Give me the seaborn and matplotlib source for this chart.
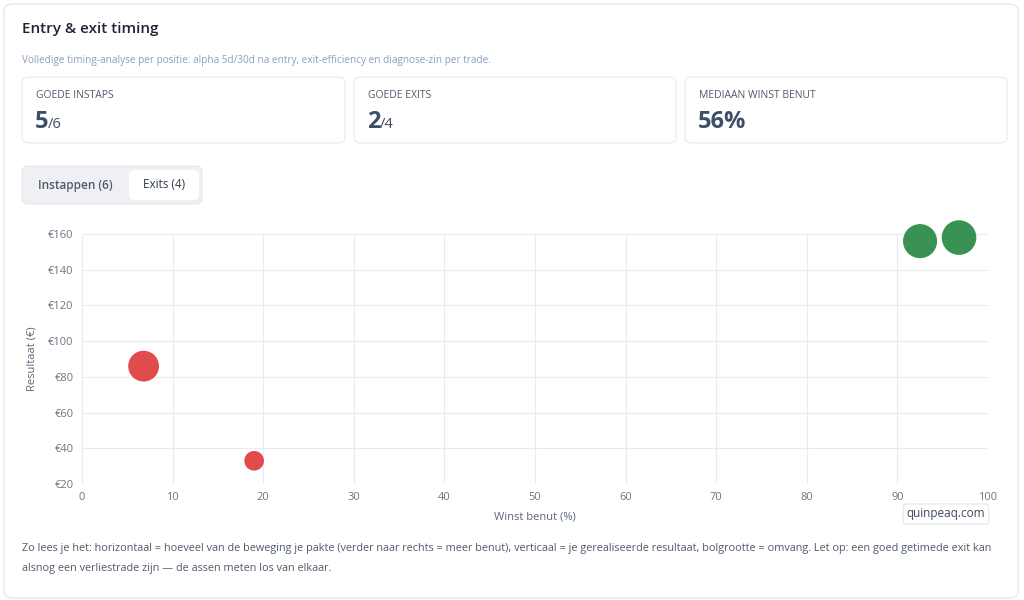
import matplotlib
matplotlib.use("Agg")
import matplotlib.pyplot as plt
import seaborn as sns
import pandas as pd
from matplotlib.patches import FancyBboxPatch
from matplotlib.ticker import FuncFormatter

winst_benut = [6.8, 19.0, 92.5, 96.8]
resultaat = [86, 33, 156, 158]
omvang = [1500, 700, 1800, 1850]
goede_exit = ["nee", "nee", "ja", "ja"]
kpi_labels = ["GOEDE INSTAPS", "GOEDE EXITS", "MEDIAAN WINST BENUT"]
kpi_main = ["5", "2", "56%"]
kpi_sub = ["/6", "/4", ""]

sns.set_theme(style="whitegrid")
plt.rcParams['font.family'] = ['Open Sans', 'DejaVu Sans']

fig = plt.figure(figsize=(10.24, 6), dpi=100)
fig.patch.set_facecolor("white")
W, H = 1024, 600
def fx(x): return x / W
def fy(y): return 1 - y / H

fig.patches.append(FancyBboxPatch((fx(4), fy(598)), fx(1014), 594 / H, boxstyle="round,pad=0,rounding_size=0.01",
                                  transform=fig.transFigure, fc="white", ec="#e3e8ef", lw=1, zorder=-5))
fig.text(fx(22), fy(29), "Entry & exit timing", fontsize=11, weight="semibold", color="#1e2533", va="center")
fig.text(fx(22), fy(60), "Volledige timing-analyse per positie: alpha 5d/30d na entry, exit-efficiency en diagnose-zin per trade.",
         fontsize=7.2, color="#8aa0bd", va="center")

cards = [(22, 345), (354, 676), (685, 1007)]
for (x0, x1), lab, m, s in zip(cards, kpi_labels, kpi_main, kpi_sub):
    fig.patches.append(FancyBboxPatch((fx(x0), fy(143)), fx(x1 - x0), 66 / H, boxstyle="round,pad=0,rounding_size=0.008",
                                      transform=fig.transFigure, fc="white", ec="#e6eaf0", lw=0.8, zorder=-4))
    fig.text(fx(x0 + 14), fy(96), lab, fontsize=7.5, color="#4f5b6b", va="center")
    t = fig.text(fx(x0 + 13), fy(122), m, fontsize=17, weight="bold", color="#3d4f66", va="center")
    if s:
        fig.canvas.draw()
        bb = t.get_window_extent()
        fig.text(bb.x1 / W - 0.001, fy(125), s, fontsize=10.5, color="#3d4f66", va="center")

fig.patches.append(FancyBboxPatch((fx(22), fy(204)), fx(180), 38 / H, boxstyle="round,pad=0,rounding_size=0.008",
                                  transform=fig.transFigure, fc="#eef0f3", ec="#e6e8ec", lw=0.8, zorder=-4))
fig.patches.append(FancyBboxPatch((fx(129), fy(200)), fx(70), 30 / H, boxstyle="round,pad=0,rounding_size=0.008",
                                  transform=fig.transFigure, fc="white", ec="none", zorder=-3))
fig.text(fx(75), fy(185), "Instappen (6)", fontsize=8.5, color="#4f5b6b", weight="semibold", ha="center", va="center")
fig.text(fx(164), fy(185), "Exits (4)", fontsize=8.5, color="#2f3a4a", ha="center", va="center")

ax = fig.add_axes([fx(82), fy(484), fx(988 - 82), (484 - 234) / H])
ax.set_zorder(2)
ax.patch.set_alpha(0)
df = pd.DataFrame({"Winst benut (%)": winst_benut, "Resultaat (€)": resultaat,
                   "omvang": omvang, "goed": goede_exit})
sns.scatterplot(data=df, x="Winst benut (%)", y="Resultaat (€)", size="omvang", sizes=(200, 620),
                hue="goed", palette={"ja": "#2e8b4a", "nee": "#df4242"}, ax=ax, legend=False,
                edgecolor="none", alpha=0.95, clip_on=False, zorder=3)
ax.set_xlim(0, 100)
ax.set_ylim(20, 160)
ax.set_xticks(range(0, 101, 10))
ax.set_yticks(range(20, 161, 20))
ax.yaxis.set_major_formatter(FuncFormatter(lambda v, p: f"€{int(v)}"))
ax.tick_params(labelsize=8, colors="#6b7585", length=0, pad=6)
ax.grid(color="#e8ebef", lw=0.8)
for s in ax.spines.values():
    s.set_visible(False)
ax.set_xlabel("Winst benut (%)", fontsize=8, color="#5b6778", labelpad=6)
ax.set_ylabel("Resultaat (€)", fontsize=8, color="#5b6778", labelpad=8)

fig.text(fx(22), fy(549), "Zo lees je het: horizontaal = hoeveel van de beweging je pakte (verder naar rechts = meer benut), verticaal = je gerealiseerde resultaat, bolgrootte = omvang. Let op: een goed getimede exit kan",
         fontsize=7.8, color="#4f5b6b", va="center")
fig.text(fx(22), fy(568), "alsnog een verliestrade zijn — de assen meten los van elkaar.", fontsize=7.8, color="#4f5b6b", va="center")
fig.text(fx(946), fy(514), "quinpeaq.com", fontsize=8.5, color="#3d4a5c", ha="center", va="center", zorder=5,
         bbox=dict(boxstyle="round,pad=0.3", fc="white", ec="#d8dde4", lw=0.6))

fig.savefig("out.png", dpi=100)
